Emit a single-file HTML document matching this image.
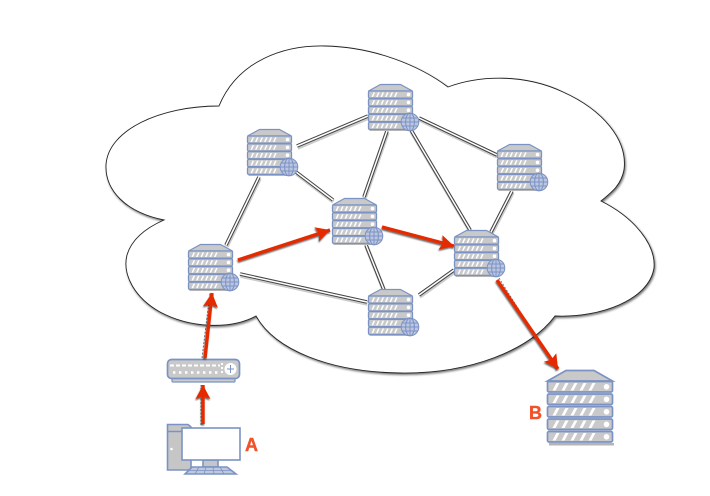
<!DOCTYPE html>
<html><head><meta charset="utf-8">
<style>html,body{margin:0;padding:0;background:#fff;width:710px;height:496px;overflow:hidden}svg{display:block}</style>
</head><body>
<svg width="710" height="496" viewBox="0 0 710 496" xmlns="http://www.w3.org/2000/svg">
<defs>
<filter id="cs" x="-5%" y="-5%" width="110%" height="110%"><feDropShadow dx="1" dy="1.5" stdDeviation="1" flood-color="#000" flood-opacity=".55"/></filter>
<filter id="as" x="-20%" y="-20%" width="140%" height="140%"><feDropShadow dx="-.5" dy="1.5" stdDeviation=".7" flood-color="#000" flood-opacity=".6"/></filter>
<marker id="ah" markerUnits="userSpaceOnUse" markerWidth="16" markerHeight="16" refX="14" refY="8" orient="auto"><path d="M0 .5L14 8L0 15.500L2.500 8Z" fill="#e52a00"/></marker>
<g id="row">
<rect x="0" y="0" width="44" height="7.200" rx="1.200" fill="#c9c9c9" stroke="#7b93c4" stroke-width="1.300"/>
<path d="M3 6L5 1.400H6.600L4.600 6ZM7.500 6L9.500 1.400H11.100L9.100 6ZM12 6L14 1.400H15.600L13.600 6ZM16.500 6L18.500 1.400H20.100L18.100 6ZM21 6L23 1.400H24.600L22.600 6ZM25.500 6L27.500 1.400H29.100L27.100 6Z" fill="#fff"/>
<circle cx="40" cy="3.600" r="1.800" fill="#fff"/>
</g>
<g id="srv">
<rect x="1" y="45" width="43" height="2" fill="#b5b5b5"/>
<path d="M0 7L12 .5H32L44 7Z" fill="#c9c9c9" stroke="#7b93c4" stroke-width="1.200"/>
<use href="#row" x="0" y="7"/><use href="#row" x="0" y="14.800"/><use href="#row" x="0" y="22.600"/><use href="#row" x="0" y="30.400"/><use href="#row" x="0" y="38.200"/>
<g transform="translate(41.500,38)" fill="#bcc6e0" stroke="#7b93c4" stroke-width="1">
<circle r="8.800"/><ellipse rx="4.400" ry="8.800" fill="none"/><path d="M0-8.800V8.800M-8.800 0H8.800M-7.600-4H7.600M-7.600 4H7.600" fill="none"/>
</g>
</g>
<g id="brow">
<rect x="0" y="0" width="65" height="10.500" rx="1.500" fill="#c9c9c9" stroke="#7b93c4" stroke-width="1.700"/>
<path d="M5 9L9 1.500H12L8 9ZM14 9L18 1.500H21L17 9ZM23 9L27 1.500H30L26 9ZM32 9L36 1.500H39L35 9ZM41 9L45 1.500H48L44 9Z" fill="#fff"/>
<circle cx="59" cy="5.300" r="2.800" fill="#fff"/>
</g>
</defs>

<path filter="url(#cs)" fill="#fff" stroke="#222" stroke-width=".9" d="M219 106C238 60 285 45 325 46C375 47 420 66 448 87C480 75 525 74 563 92C603 110 628 140 624 170C621 185 612 192 601 201C635 218 656 245 654 268C649 300 600 318 555 316C530 350 470 374 400 373C330 372 275 350 256 316C230 330 190 328 160 312C135 298 122 275 127 255C132 238 148 227 164 220C125 212 105 190 106 165C108 130 160 106 219 106Z"/>

<g fill="none" stroke-linecap="butt">
<g stroke="#ccc" stroke-width="4.500" transform="translate(.5,1.500)">
<path d="M297 146L368 116M364 197L387 131M419 118L497 155M411 130L470 230M512 191L491 232M296 172L333 200M259 177L226 245M240 274L367 302M366 245L384 290M419 295L454 270"/>
</g>
<g stroke="#444" stroke-width="3.600">
<path d="M297 146L368 116M364 197L387 131M419 118L497 155M411 130L470 230M512 191L491 232M296 172L333 200M259 177L226 245M240 274L367 302M366 245L384 290M419 295L454 270"/>
</g>
<g stroke="#fff" stroke-width="1.500">
<path d="M297 146L368 116M364 197L387 131M419 118L497 155M411 130L470 230M512 191L491 232M296 172L333 200M259 177L226 245M240 274L367 302M366 245L384 290M419 295L454 270"/>
</g>
</g>

<use href="#srv" x="368.500" y="84"/>
<use href="#srv" x="247.500" y="129"/>
<use href="#srv" x="332.500" y="198"/>
<use href="#srv" x="188.500" y="244"/>
<use href="#srv" x="368.500" y="289"/>
<use href="#srv" x="454.500" y="230"/>
<use href="#srv" x="497.500" y="144"/>

<!-- server B -->
<g>
<rect x="549" y="443" width="65" height="2.500" fill="#b5b5b5"/>
<path d="M547.500 381L566 370.500H594L612.500 381Z" fill="#c9c9c9" stroke="#7b93c4" stroke-width="1.700"/>
<use href="#brow" x="547.500" y="381.500"/><use href="#brow" x="547.500" y="394"/><use href="#brow" x="547.500" y="406.500"/><use href="#brow" x="547.500" y="419"/><use href="#brow" x="547.500" y="431.500"/>
</g>

<!-- router -->
<g>
<rect x="172" y="378" width="63" height="4" rx="1" fill="#ccc" stroke="#7b93c4" stroke-width="1.200"/>
<rect x="167.500" y="359.500" width="72" height="19" rx="4" fill="#c9c9c9" stroke="#7b93c4" stroke-width="1.700"/>
<path d="M170 365.500H220" stroke="#fff" stroke-width="2" stroke-dasharray="4 2" fill="none"/>
<path d="M173 372.500H218" stroke="#fff" stroke-width="2.400" stroke-dasharray="2.400 3.600" fill="none"/>
<path d="M222 363V375" stroke="#fff" stroke-width="2" stroke-dasharray="2 2" fill="none"/>
<circle cx="230.500" cy="369" r="6" fill="#fff"/>
<path d="M230.500 365V373M227 369H234" stroke="#7b93c4" stroke-width="1" fill="none"/>
</g>

<!-- computer -->
<g stroke="#7b93c4" stroke-width="1.600">
<path d="M167.500 470V424.500H188L191 427V470Z" fill="#c6c6c6"/>
<path d="M167.500 431.500H188" fill="none"/>
<rect x="203" y="460" width="15" height="7" fill="#c6c6c6"/>
<rect x="182" y="428" width="58" height="32" fill="#fff"/>
<path d="M192 467H227L236 474H185Z" fill="#c0c8de"/>
<path d="M189 470.500H232M199 467L195 474M206 467L204 474M213 467L214 474M220 467L224 474" fill="none" stroke-width=".8"/>
</g>
<circle cx="171.500" cy="449" r="1.300" fill="#fff"/>

<!-- red arrows -->
<g fill="none">
<g stroke="#777" stroke-width="1" stroke-dasharray="2 1.500">
<path d="M202 358L210 293M201 425L201 385M499 278L556 369"/>
</g>
<g filter="url(#as)" stroke="#e52a00" stroke-width="3.400">
<path d="M238 260L330 230" marker-end="url(#ah)"/>
<path d="M382 227L454 246" marker-end="url(#ah)"/>
<path d="M497 280L558 369" marker-end="url(#ah)"/>
<path d="M205 358L212 293" marker-end="url(#ah)"/>
<path d="M203 424L203 385" marker-end="url(#ah)"/>
</g>
</g>

<text x="245" y="451" font-family="'Liberation Sans',sans-serif" font-weight="bold" font-size="18" fill="#f0522a" stroke="#f0522a" stroke-width=".4">A</text>
<text x="529" y="419" font-family="'Liberation Sans',sans-serif" font-weight="bold" font-size="18" fill="#f0522a" stroke="#f0522a" stroke-width=".4">B</text>
</svg>
</body></html>
